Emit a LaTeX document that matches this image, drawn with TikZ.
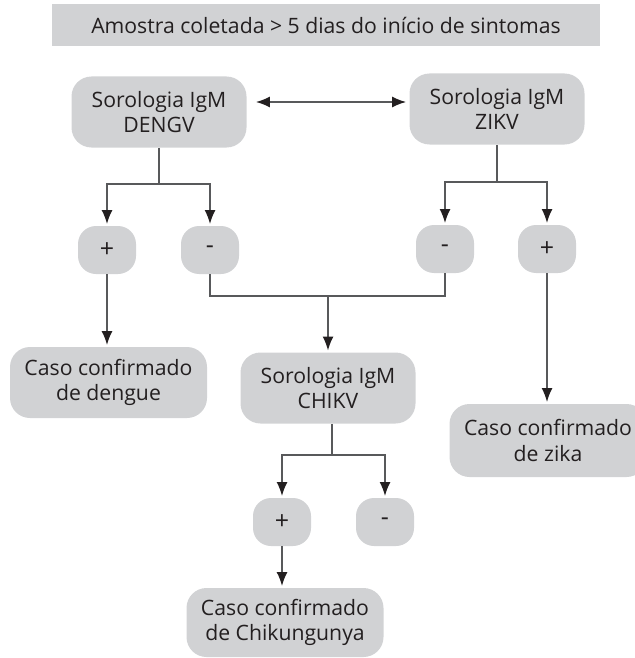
\documentclass[tikz,border=0pt]{standalone}
\usepackage{fontspec}
\setmainfont{Open Sans}
\usepackage{xcolor}
\usepackage{tikz}
\usetikzlibrary{arrows.meta}

\definecolor{boxgray}{HTML}{D1D2D4}
\definecolor{linegray}{HTML}{58595B}
\definecolor{inkblack}{HTML}{231F20}

\begin{document}
\begin{tikzpicture}[
    x=0.5pt, y=-0.5pt,
    font=\fontsize{10.6}{12.8}\selectfont, text=inkblack,
    banner/.style={fill=boxgray, inner sep=0pt, minimum width=274pt, minimum height=21pt},
    test/.style={fill=boxgray, rounded corners=10pt, align=center, inner sep=0pt,
                 minimum width=87.5pt, minimum height=35.5pt},
    result/.style={test, minimum width=98.5pt},
    sign/.style={fill=boxgray, rounded corners=9pt, inner sep=0pt,
                 font=\fontsize{12.5}{14}\selectfont,
                 minimum width=29pt, minimum height=24pt},
    ln/.style={draw=linegray, line width=0.75pt},
    arr/.style={ln, -{Latex[length=7pt, width=5.5pt, color=inkblack]}, shorten >=0.8pt},
    dblarr/.style={ln, {Latex[length=7pt, width=5.5pt, color=inkblack]}-{Latex[length=7pt, width=5.5pt, color=inkblack]}}
]
\useasboundingbox (0,0) rectangle (635,658);

% ---------- header ----------
\node[banner] (sample) at (326,25) {Amostra coletada > 5 dias do início de sintomas};

% ---------- first serologies ----------
\node[test] (deng) at (159,112) {Sorologia IgM\\DENGV};
\node[test] (zikv) at (497,109) {Sorologia IgM\\ZIKV};
\draw[dblarr, shorten <=4.5pt, shorten >=1.5pt]
    ([yshift=5pt]deng.east) -- ([yshift=5pt]deng.east -| zikv.west);

\node[sign] (dp) at (107,250) {+};
\node[sign] (dm) at (210,250) {-};
\node[sign] (zm) at (445,249) {-};
\node[sign] (zp) at (547,249) {+};

\coordinate (dfork) at (159,184);
\coordinate (zfork) at (497,182);
\draw[ln] (deng.south) -- (dfork);
\draw[arr] (dfork) -| (dp.north);
\draw[arr] (dfork) -| (dm.north);
\draw[ln] (zikv.south) -- (zfork);
\draw[arr] (zfork) -| (zm.north);
\draw[arr] (zfork) -| (zp.north);

% ---------- results ----------
\node[result] (dengue) at (108.5,382.5) {Caso confirmado\\de dengue};
\node[test] (chikv) at (328,388) {Sorologia IgM\\CHIKV};
\node[result, minimum height=36.5pt] (zika) at (548,440.5) {Caso confirmado\\de zika};

\draw[arr] (dp.south) -- (dp.south |- dengue.north);
\draw[arr] (zp.south) -- (zp.south |- zika.north);

\coordinate (mjoin) at (328,296);
\draw[ln] (dm.south) |- (mjoin) -| (zm.south);
\draw[arr] (mjoin) -- (chikv.north);

% ---------- chikungunya ----------
\node[sign] (cp) at (282,522) {+};
\node[sign] (cm) at (385,522) {-};
\node[result, minimum height=34.5pt] (chik) at (285,622.5) {Caso confirmado\\de Chikungunya};

\coordinate (cfork) at (332,455);
\draw[ln] (chikv.south -| cfork) -- (cfork);
\draw[arr] (cfork) -| (cp.north);
\draw[arr] (cfork) -| (cm.north);
\draw[arr] (cp.south) -- (cp.south |- chik.north);

\end{tikzpicture}
\end{document}
